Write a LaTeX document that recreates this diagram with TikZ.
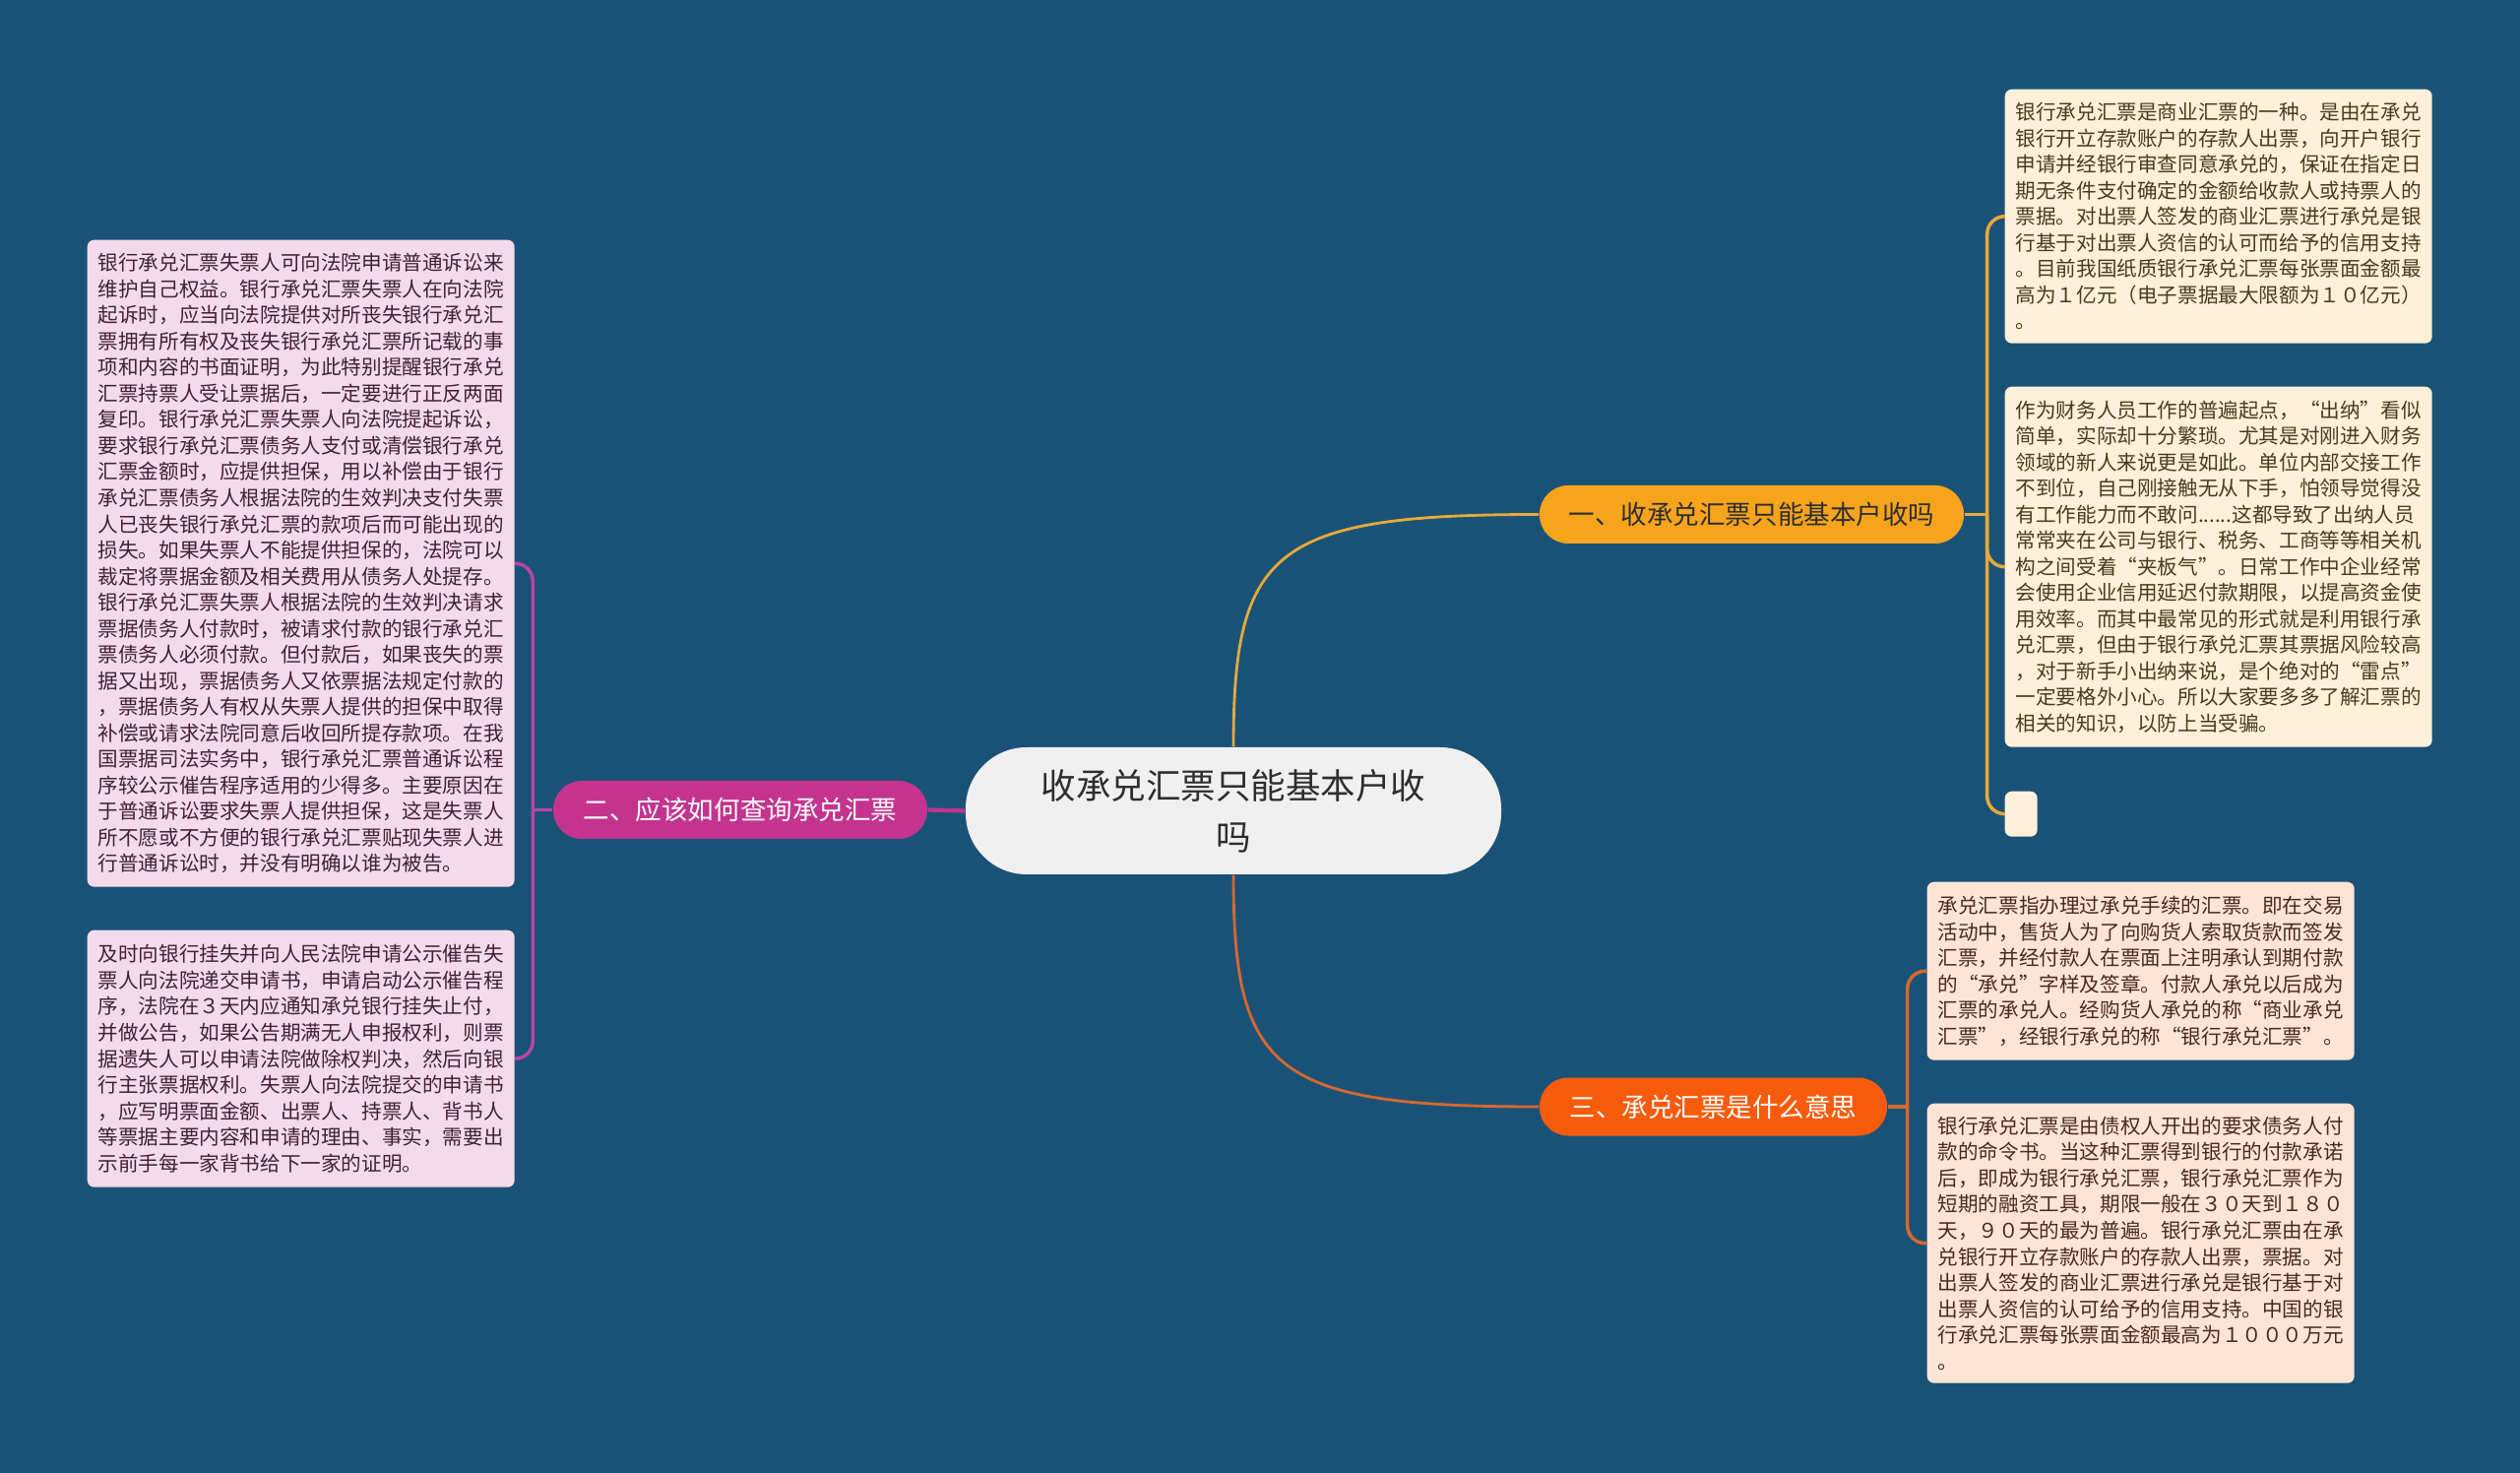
\documentclass[tikz,border=0pt]{standalone}
\usepackage{fontspec}
\setmainfont{Noto Sans CJK SC}
\usetikzlibrary{calc}
\definecolor{bgblue}{HTML}{1A5277}
\definecolor{topicgrey}{HTML}{F0F0F0}
\definecolor{topicink}{HTML}{2E2E2E}
\definecolor{oneorange}{HTML}{F7A41D}
\definecolor{onelink}{HTML}{E6A93B}
\definecolor{oneleaf}{HTML}{FEF0D9}
\definecolor{oneink}{HTML}{4B3A1E}
\definecolor{twopink}{HTML}{C4348F}
\definecolor{twolink}{HTML}{B845A6}
\definecolor{twoleaf}{HTML}{F5DAEC}
\definecolor{twoink}{HTML}{3F2235}
\definecolor{threered}{HTML}{F85B0C}
\definecolor{threelink}{HTML}{D6682F}
\definecolor{threeleaf}{HTML}{FDE4D6}
\definecolor{threeink}{HTML}{4A2A1E}

\begin{document}
\begin{tikzpicture}
\tikzset{topic/.style={fill=topicgrey,text=topicink,rounded corners=0.62cm,minimum width=5.44cm,minimum height=1.29cm,align=center,inner sep=0pt,font=\fontsize{10.1}{14.8}\selectfont}, branch/.style={rounded corners=0.29cm,minimum height=0.59cm,inner sep=0pt,align=center,font=\fontsize{7.55}{9}\selectfont}, leaf/.style={rounded corners=0.07cm,anchor=north west,text width=4.12cm,inner xsep=0.11cm,inner ysep=0pt,align=left,font=\fontsize{5.86}{7.55}\selectfont}, stub/.style={rounded corners=0.07cm,anchor=north west,minimum width=0.33cm,minimum height=0.46cm,inner sep=0pt}, link/.style={line width=0.8pt}, bracket/.style={line width=1pt,rounded corners=0.18cm}}
\fill[bgblue] (0,0) rectangle (25.6,-14.96);
\node[topic] (topic) at (12.53,-8.235) {收承兑汇票只能基本户收\\吗};
\node[branch,fill=oneorange,text=topicink,minimum width=4.31cm] (one) at (17.795,-5.225) {一、收承兑汇票只能基本户收吗};
\node[branch,fill=twopink,text=white,minimum width=3.80cm] (two) at (7.52,-8.225) {二、应该如何查询承兑汇票};
\node[branch,fill=threered,text=white,minimum width=3.53cm] (three) at (17.405,-11.24) {三、承兑汇票是什么意思};
% leaves of the first branch
\node[leaf,fill=oneleaf,text=oneink,minimum height=2.58cm] (oneA) at (20.36,-0.90) {银行承兑汇票是商业汇票的一种。是由在承兑\\银行开立存款账户的存款人出票，向开户银行\\申请并经银行审查同意承兑的，保证在指定日\\期无条件支付确定的金额给收款人或持票人的\\票据。对出票人签发的商业汇票进行承兑是银\\行基于对出票人资信的认可而给予的信用支持\\。目前我国纸质银行承兑汇票每张票面金额最\\高为１亿元（电子票据最大限额为１０亿元）\\。};
\node[leaf,fill=oneleaf,text=oneink,minimum height=3.66cm] (oneB) at (20.36,-3.92) {作为财务人员工作的普遍起点，“出纳”看似\\简单，实际却十分繁琐。尤其是对刚进入财务\\领域的新人来说更是如此。单位内部交接工作\\不到位，自己刚接触无从下手，怕领导觉得没\\有工作能力而不敢问......这都导致了出纳人员\\常常夹在公司与银行、税务、工商等等相关机\\构之间受着“夹板气”。日常工作中企业经常\\会使用企业信用延迟付款期限，以提高资金使\\用效率。而其中最常见的形式就是利用银行承\\兑汇票，但由于银行承兑汇票其票据风险较高\\，对于新手小出纳来说，是个绝对的“雷点”\\一定要格外小心。所以大家要多多了解汇票的\\相关的知识，以防上当受骗。};
\node[stub,fill=oneleaf] (oneC) at (20.36,-8.03) {};
% leaves of the second branch
\node[leaf,fill=twoleaf,text=twoink,minimum height=6.57cm] (twoA) at (0.88,-2.43) {银行承兑汇票失票人可向法院申请普通诉讼来\\维护自己权益。银行承兑汇票失票人在向法院\\起诉时，应当向法院提供对所丧失银行承兑汇\\票拥有所有权及丧失银行承兑汇票所记载的事\\项和内容的书面证明，为此特别提醒银行承兑\\汇票持票人受让票据后，一定要进行正反两面\\复印。银行承兑汇票失票人向法院提起诉讼，\\要求银行承兑汇票债务人支付或清偿银行承兑\\汇票金额时，应提供担保，用以补偿由于银行\\承兑汇票债务人根据法院的生效判决支付失票\\人已丧失银行承兑汇票的款项后而可能出现的\\损失。如果失票人不能提供担保的，法院可以\\裁定将票据金额及相关费用从债务人处提存。\\银行承兑汇票失票人根据法院的生效判决请求\\票据债务人付款时，被请求付款的银行承兑汇\\票债务人必须付款。但付款后，如果丧失的票\\据又出现，票据债务人又依票据法规定付款的\\，票据债务人有权从失票人提供的担保中取得\\补偿或请求法院同意后收回所提存款项。在我\\国票据司法实务中，银行承兑汇票普通诉讼程\\序较公示催告程序适用的少得多。主要原因在\\于普通诉讼要求失票人提供担保，这是失票人\\所不愿或不方便的银行承兑汇票贴现失票人进\\行普通诉讼时，并没有明确以谁为被告。};
\node[leaf,fill=twoleaf,text=twoink,minimum height=2.61cm] (twoB) at (0.88,-9.44) {及时向银行挂失并向人民法院申请公示催告失\\票人向法院递交申请书，申请启动公示催告程\\序，法院在３天内应通知承兑银行挂失止付，\\并做公告，如果公告期满无人申报权利，则票\\据遗失人可以申请法院做除权判决，然后向银\\行主张票据权利。失票人向法院提交的申请书\\，应写明票面金额、出票人、持票人、背书人\\等票据主要内容和申请的理由、事实，需要出\\示前手每一家背书给下一家的证明。};
% leaves of the third branch
\node[leaf,fill=threeleaf,text=threeink,minimum height=1.81cm] (threeA) at (19.57,-8.95) {承兑汇票指办理过承兑手续的汇票。即在交易\\活动中，售货人为了向购货人索取货款而签发\\汇票，并经付款人在票面上注明承认到期付款\\的“承兑”字样及签章。付款人承兑以后成为\\汇票的承兑人。经购货人承兑的称“商业承兑\\汇票”，经银行承兑的称“银行承兑汇票”。};
\node[leaf,fill=threeleaf,text=threeink,minimum height=2.84cm] (threeB) at (19.57,-11.20) {银行承兑汇票是由债权人开出的要求债务人付\\款的命令书。当这种汇票得到银行的付款承诺\\后，即成为银行承兑汇票，银行承兑汇票作为\\短期的融资工具，期限一般在３０天到１８０\\天，９０天的最为普遍。银行承兑汇票由在承\\兑银行开立存款账户的存款人出票，票据。对\\出票人签发的商业汇票进行承兑是银行基于对\\出票人资信的认可给予的信用支持。中国的银\\行承兑汇票每张票面金额最高为１０００万元\\。};
% main curves from the topic
\draw[link,draw=onelink] (topic.north) .. controls +(0,2) and +(-2.7,0) .. (one.west);
\draw[link,draw=threelink] (topic.south) .. controls +(0,-2) and +(-2.7,0) .. (three.west);
\draw[line width=1.2pt,draw=twopink] (topic.west) -- (two.east);
% brackets to the leaves
\coordinate (oneBar) at ($(one.east)+(0.23,0)$);
\coordinate (twoBar) at ($(two.west)+(-0.20,0)$);
\coordinate (threeBar) at ($(three.east)+(0.20,0)$);
\draw[bracket,draw=onelink] (one.east) -- (oneBar);
\foreach \n in {oneA,oneB,oneC}{\draw[bracket,draw=onelink] (oneBar) |- (\n.west);}
\draw[bracket,draw=twolink] (two.west) -- (twoBar);
\foreach \n in {twoA,twoB}{\draw[bracket,draw=twolink] (twoBar) |- (\n.east);}
\draw[bracket,draw=threelink] (three.east) -- (threeBar);
\foreach \n in {threeA,threeB}{\draw[bracket,draw=threelink] (threeBar) |- (\n.west);}
\end{tikzpicture}
\end{document}
